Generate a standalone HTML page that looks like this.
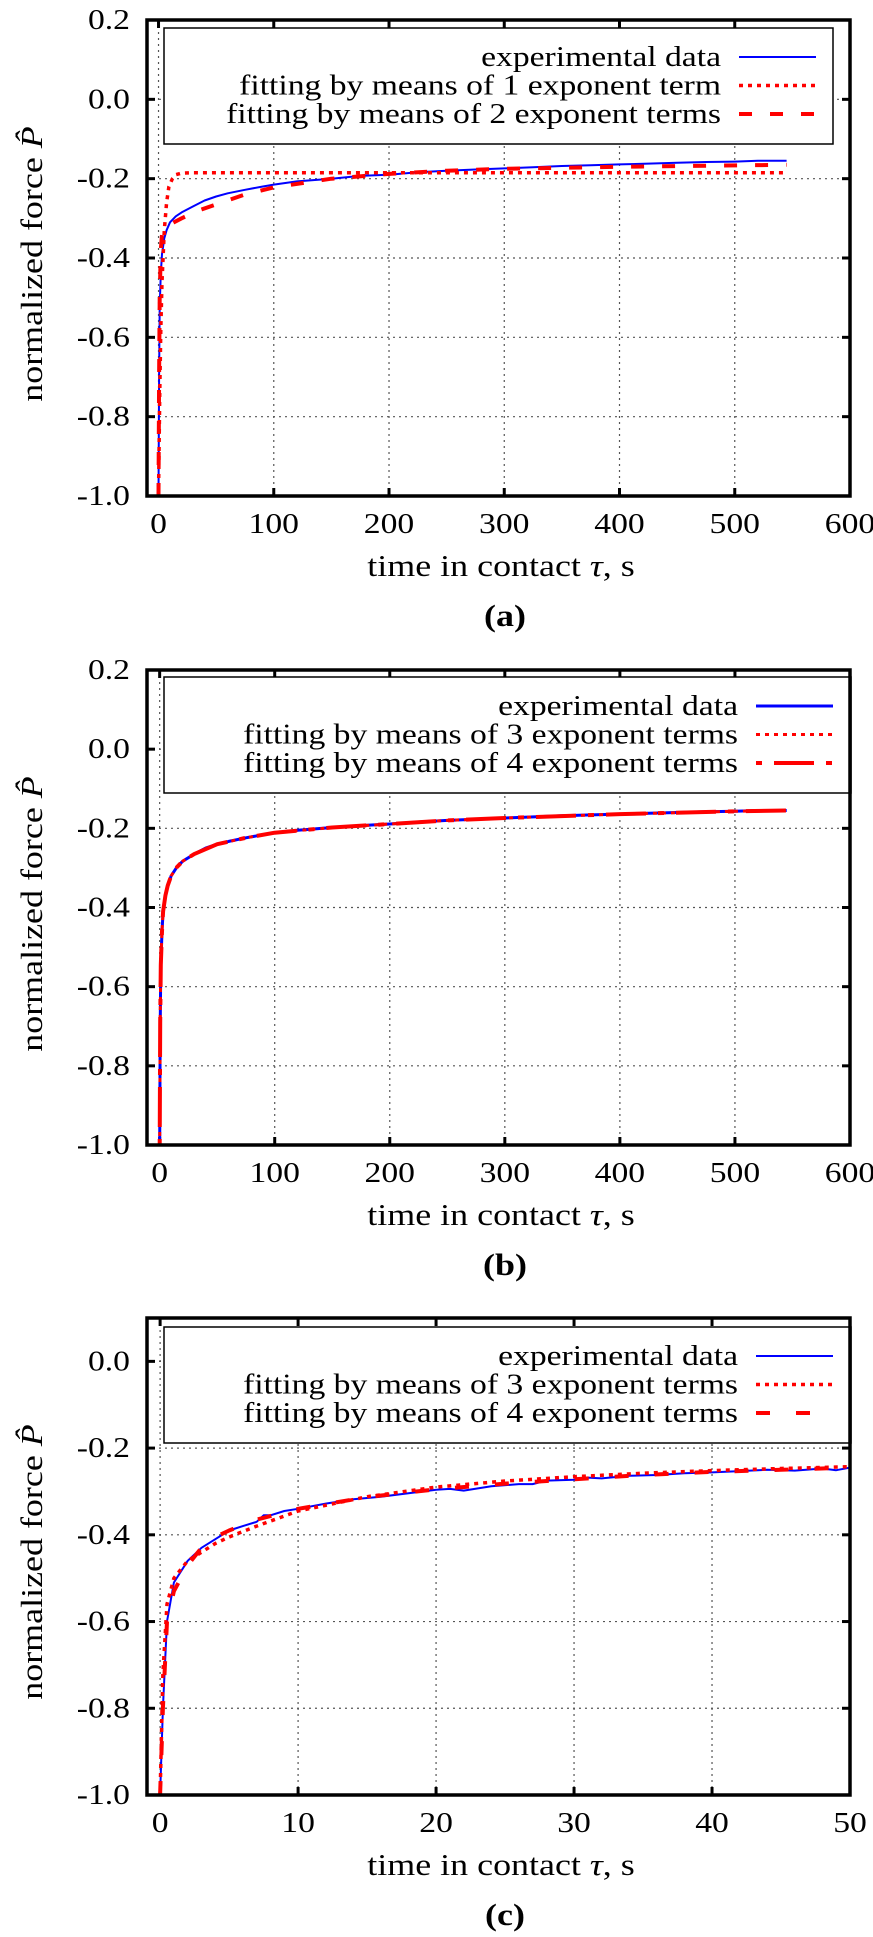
<!DOCTYPE html>
<html><head><meta charset="utf-8">
<style>
html,body{margin:0;padding:0;background:#fff;}
svg{display:block;font-family:"Liberation Serif","DejaVu Serif",serif;}
svg text{font-family:"Liberation Serif","DejaVu Serif",serif;fill:#000;}
</style></head>
<body>
<svg id="fig" width="873" height="1937" viewBox="0 0 873 1937" xmlns="http://www.w3.org/2000/svg" font-family="Liberation Serif, serif"></svg>
<script>
// ---------- Panel (a) data ----------
const aExpT = [0,0.5,1,2,3,5,7,10,15,20,30,40,50,60,75,90,100,120,150,175,200,225,250,275,300,325,350,375,400,425,450,475,500,520,545];
const aExpP = [-1.0,-0.7,-0.52,-0.44,-0.39,-0.35,-0.33,-0.31,-0.295,-0.285,-0.27,-0.255,-0.245,-0.237,-0.228,-0.22,-0.215,-0.207,-0.2,-0.193,-0.19,-0.184,-0.18,-0.177,-0.174,-0.171,-0.168,-0.166,-0.164,-0.162,-0.16,-0.158,-0.157,-0.155,-0.155];
const aFit1T = [0,1,2,3,5,7,9,12,15,20,30,100,300,545];
const aFit1P = [-1.0,-0.75,-0.58,-0.46,-0.33,-0.26,-0.22,-0.2,-0.19,-0.186,-0.185,-0.185,-0.185,-0.185];
const aFit2T = [0,0.5,1,2,3,5,8,12,20,35,50,75,100,150,200,250,300,400,545];
const aFit2P = [-1.0,-0.7,-0.5,-0.38,-0.34,-0.325,-0.318,-0.312,-0.3,-0.28,-0.265,-0.24,-0.222,-0.2,-0.188,-0.18,-0.175,-0.17,-0.165];
// ---------- Panel (b) data ----------
const bExpT = [0,0.5,1,2,3,5,7,10,15,20,30,40,50,60,75,90,100,120,150,175,200,225,250,275,300,325,350,375,400,425,450,475,500,520,545];
const bExpP = [-1.0,-0.7,-0.55,-0.46,-0.41,-0.37,-0.345,-0.32,-0.298,-0.283,-0.265,-0.25,-0.24,-0.233,-0.224,-0.216,-0.211,-0.205,-0.198,-0.193,-0.189,-0.184,-0.18,-0.177,-0.174,-0.171,-0.168,-0.166,-0.164,-0.162,-0.16,-0.158,-0.157,-0.155,-0.155];
const bFit3T = [0,0.5,1,2,3,5,7,10,15,20,30,50,75,100,150,200,250,300,400,500,545];
const bFit3P = [-1.0,-0.68,-0.54,-0.46,-0.41,-0.37,-0.345,-0.32,-0.298,-0.283,-0.265,-0.24,-0.224,-0.211,-0.198,-0.189,-0.18,-0.174,-0.164,-0.157,-0.155];
const bFit4T = bFit3T;
const bFit4P = [-1.0,-0.69,-0.545,-0.46,-0.41,-0.37,-0.345,-0.32,-0.298,-0.283,-0.265,-0.24,-0.224,-0.211,-0.198,-0.189,-0.18,-0.174,-0.164,-0.157,-0.155];
// ---------- Panel (c) data ----------
const cExpT = [0,0.2,0.5,1,2,3,4,5,6,7,7.5,8,9,10,12,14,16,18,20,21,22,24,26,27,28,30,31,32,34,36,38,40,42,44,46,48,49,50];
const cExpP = [-1.0,-0.8,-0.6,-0.51,-0.46,-0.43,-0.41,-0.39,-0.38,-0.37,-0.355,-0.355,-0.345,-0.34,-0.328,-0.318,-0.312,-0.304,-0.296,-0.294,-0.298,-0.288,-0.283,-0.283,-0.275,-0.273,-0.268,-0.27,-0.264,-0.262,-0.258,-0.256,-0.253,-0.25,-0.252,-0.247,-0.251,-0.245];
const cFit3T = [0,0.2,0.5,1,2,3,4,5,7,10,15,20,25,30,35,40,45,50];
const cFit3P = [-1.0,-0.72,-0.56,-0.5,-0.46,-0.44,-0.42,-0.405,-0.38,-0.345,-0.312,-0.29,-0.276,-0.266,-0.258,-0.252,-0.247,-0.243];
const cFit4T = [0,0.2,0.5,1,2,3,4,5,7,10,15,20,25,30,35,40,45,50];
const cFit4P = [-1.0,-0.8,-0.6,-0.53,-0.47,-0.43,-0.405,-0.39,-0.365,-0.34,-0.313,-0.295,-0.282,-0.272,-0.262,-0.255,-0.25,-0.245];
// ---------- ticks ----------
const abXTicks = [0,100,200,300,400,500,600];
const abXTickLabels = ["0","100","200","300","400","500","600"];
const abYTicks = [-1.0,-0.8,-0.6,-0.4,-0.2,0.0,0.2];
const abYTickLabels = ["-1.0","-0.8","-0.6","-0.4","-0.2","0.0","0.2"];
const cXTicks = [0,10,20,30,40,50];
const cXTickLabels = ["0","10","20","30","40","50"];
const cYTicks = [-1.0,-0.8,-0.6,-0.4,-0.2,0.0];
const cYTickLabels = ["-1.0","-0.8","-0.6","-0.4","-0.2","0.0"];

const NS = "http://www.w3.org/2000/svg";
const svg = document.getElementById('fig');
const SX = 1.16; // horizontal stretch of the reference glyphs
function mk(tag, attrs, parent){
  const e = document.createElementNS(NS, tag);
  for (const k in attrs) e.setAttribute(k, attrs[k]);
  (parent||svg).appendChild(e);
  return e;
}
function txt(parent, x, y, size, anchor, extra){
  const a = {x:0, y:0, 'font-size':size, 'text-anchor':anchor, 'font-family':'Liberation Serif, serif',
    transform:'translate(' + x + ',' + y + ') scale(' + SX + ',1)'};
  for (const k in (extra||{})) a[k] = extra[k];
  return mk('text', a, parent);
}

function panel(cfg){
  const g = mk('g', {});
  
  
  const L=147, R=850, T=cfg.top, B=cfg.bottom;
  const sx = v => L + (v - cfg.xmin) / (cfg.xmax - cfg.xmin) * (R - L);
  const sy = v => B - (v - cfg.ymin) / (cfg.ymax - cfg.ymin) * (B - T);
  const grid = mk('g', {stroke:'#555', 'stroke-width':1.2, 'stroke-dasharray':'2 4'}, g);
  
  
  cfg.xt.forEach(v => { const x = sx(v); if (x > L+2 && x < R-2) mk('line',{x1:x,x2:x,y1:T,y2:B},grid); });
  cfg.yt.forEach(v => { const y = sy(v); if (y > T+2 && y < B-2) mk('line',{x1:L,x2:R,y1:y,y2:y},grid); });
  const tk = mk('g', {stroke:'#000','stroke-width':3}, g);
  
  
  cfg.xt.forEach(v => { const x = sx(v); mk('line',{x1:x,x2:x,y1:B,y2:B-8},tk); mk('line',{x1:x,x2:x,y1:T,y2:T+8},tk); });
  cfg.yt.forEach(v => { const y = sy(v); mk('line',{x1:L,x2:L+8,y1:y,y2:y},tk); mk('line',{x1:R,x2:R-8,y1:y,y2:y},tk); });
  cfg.xt.forEach((v,i) => {
    const t = txt(g, sx(v), B+37, 29, 'middle');
    
    
    t.textContent = cfg.xl[i];
  });
  cfg.yt.forEach((v,i) => {
    const t = txt(g, 130, sy(v)+9, 29, 'end');
    
    
    t.textContent = cfg.yl[i];
  });
  const clip = mk('clipPath', {id:'clip'+cfg.id}, g);
  mk('rect', {x:L, y:T, width:R-L, height:B-T}, clip);
  cfg.series.forEach(s => {
    const pts = s.t.map((t,i) => sx(t).toFixed(1) + ',' + sy(s.p[i]).toFixed(1)).join(' ');
    const pl = mk('polyline', {points:pts, fill:'none', stroke:s.color, 'stroke-width':s.w, 'stroke-dasharray':s.dash||'none', 'clip-path':'url(#clip'+cfg.id+')', 'stroke-linejoin':'round'}, g);
    
    
  });
  const lg = mk('g', {}, g);
  
  
  const box = mk('rect', {x:164, y:cfg.lt, width:cfg.lr-164, height:116, fill:'#fff', stroke:'#000', 'stroke-width':1.5}, lg);
  
  
  cfg.series.forEach((s,i) => {
    const by = cfg.lt + 38 + i*28.5;
    const t = txt(lg, cfg.te, by, 29, 'end');
    
    
    t.textContent = s.label;
    const ln = mk('line', {x1:cfg.te+18, x2:cfg.te+95, y1:by-9, y2:by-9, stroke:s.color, 'stroke-width':s.lw||s.w, 'stroke-dasharray':s.ldash||s.dash||'none'}, lg);
    
    
  });
  const fr = mk('rect', {x:L, y:T, width:R-L, height:B-T, fill:'none', stroke:'#000', 'stroke-width':3.5}, g);
  
  
  const xt = txt(g, 501, B+80, 31, 'middle');
  
  
  xt.innerHTML = 'time in contact <tspan font-style="italic">τ</tspan>, s';
  const cy = T + 244;
  const yt = mk('text', {x:0, y:0, 'font-size':31, 'text-anchor':'middle', 'font-family':'Liberation Serif, serif', transform:'translate(42,'+cy+') rotate(-90) scale(' + SX + ',1)'}, g);
  
  
  yt.innerHTML = 'normalized force <tspan font-style="italic">P̂</tspan>';
  const cap = txt(g, 505, B+130, 31, 'middle', {'font-weight':'bold'});
  
  
  cap.textContent = '(' + cfg.id + ')';
}

panel({id:'a', top:20, bottom:496, xmin:-10, xmax:600, ymin:-1, ymax:0.2,
  xt:abXTicks, xl:abXTickLabels, yt:abYTicks, yl:abYTickLabels,
  lt:28, lr:833, te:721,
  series:[
    {name:'experimental-data-line', label:'experimental data', t:aExpT, p:aExpP, color:'#0000ff', w:2},
    {name:'fit-1-exponent-line', label:'fitting by means of 1 exponent term', t:aFit1T, p:aFit1P, color:'#ff0000', w:3.5, dash:'4 5'},
    {name:'fit-2-exponent-line', label:'fitting by means of 2 exponent terms', t:aFit2T, p:aFit2P, color:'#ff0000', w:4, dash:'13 18'}
  ]});
panel({id:'b', top:670, bottom:1145, xmin:-11, xmax:600, ymin:-1, ymax:0.2,
  xt:abXTicks, xl:abXTickLabels, yt:abYTicks, yl:abYTickLabels,
  lt:677, lr:851, te:738,
  series:[
    {name:'experimental-data-line', label:'experimental data', t:bExpT, p:bExpP, color:'#0000ff', w:3},
    {name:'fit-3-exponent-line', label:'fitting by means of 3 exponent terms', t:bFit3T, p:bFit3P, color:'#ff0000', w:3, dash:'4 5'},
    {name:'fit-4-exponent-line', label:'fitting by means of 4 exponent terms', t:bFit4T, p:bFit4P, color:'#ff0000', w:4, dash:'6 12 40 12'}
  ]});
panel({id:'c', top:1318, bottom:1795, xmin:-0.95, xmax:50, ymin:-1, ymax:0.1,
  xt:cXTicks, xl:cXTickLabels, yt:cYTicks, yl:cYTickLabels,
  lt:1327, lr:851, te:738,
  series:[
    {name:'experimental-data-line', label:'experimental data', t:cExpT, p:cExpP, color:'#0000ff', w:2},
    {name:'fit-3-exponent-line', label:'fitting by means of 3 exponent terms', t:cFit3T, p:cFit3P, color:'#ff0000', w:3.5, dash:'4 5'},
    {name:'fit-4-exponent-line', label:'fitting by means of 4 exponent terms', t:cFit4T, p:cFit4P, color:'#ff0000', w:4, dash:'14 26'}
  ]});
</script>
</body></html>
